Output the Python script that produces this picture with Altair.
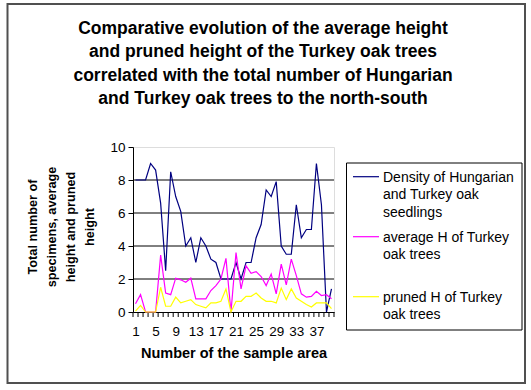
import altair as alt
import pandas as pd

# Sample areas, numbered north to south
areas = list(range(1, 41))

# Density of Hungarian and Turkey oak seedlings
density = [8, 8, 8, 9, 8.6, 6.6, 2.5, 8.5, 7, 6.1,
           4, 4.5, 3, 4.5, 4, 3.2, 3, 2, 2, 2,
           3, 2, 3, 3, 4.5, 5.3, 7.4, 7, 7.9, 4,
           3.5, 3.5, 6.5, 4.5, 5, 5, 9, 6.5, 0, 1.4]

# Average height of Turkey oak trees
avg_h = [0.5, 1.05, 0, 0, 0, 3.45, 1.15, 1.05, 2.05, 1.95,
         1.8, 2.05, 0.8, 0.8, 0.8, 1.3, 1.6, 2.0, 3.25, 0,
         3.6, 1.4, 2.8, 2.35, 2.45, 2.15, 1.6, 2.3, 1.1, 2.9,
         1.65, 3.2, 2.2, 1.1, 0.9, 0.95, 1.25, 1.0, 1.05, 0.8]

# Pruned height of Turkey oak trees
pruned_h = [0.05, 0.4, 0, 0, 0, 1.5, 0.35, 0.35, 0.9, 0.55,
            0.65, 0.75, 0.45, 0.35, 0.25, 0.55, 0.55, 0.65, 1.4, 0,
            0.65, 0.65, 0.95, 0.95, 1.15, 0.85, 0.65, 0.65, 0.55, 1.45,
            0.75, 1.4, 0.85, 0.65, 0.45, 0.3, 0.55, 0.55, 0.55, 0.2]

x_labels = [1, 5, 9, 13, 17, 21, 25, 29, 33, 37]
y_labels = [0, 2, 4, 6, 8, 10]
gridlines = [2, 4, 6, 8]

series_names = ["density", "avg", "pruned"]
series_colors = ["#000080", "#FF00FF", "#FFFF00"]
legend_labels = [
    ["Density of Hungarian", "and Turkey oak", "seedlings"],
    ["average H of Turkey", "oak trees"],
    ["pruned H of Turkey", "oak trees"],
]

title_lines = [
    "Comparative evolution of the average height",
    "and pruned height of the Turkey oak trees",
    "correlated with the total number of Hungarian",
    "and Turkey oak trees to the north-south",
]
y_title_lines = ["Total number of", "specimens, average", "height and pruned", "height"]

FONT = "Liberation Sans"

df = pd.DataFrame({
    "area": areas * 3,
    "value": density + avg_h + pruned_h,
    "series": [series_names[0]] * 40 + [series_names[1]] * 40 + [series_names[2]] * 40,
})

x_scale = alt.Scale(domain=[0.5, 40.5], nice=False, zero=False)
y_scale = alt.Scale(domain=[0, 10], nice=False)

axis_style = dict(
    labelFont=FONT, labelFontSize=13.5, labelColor="#000000",
    domainColor="#000000", domainWidth=1, tickColor="#000000", tickWidth=1,
    labelOverlap=False, grid=False,
)
x_axis = alt.Axis(
    values=x_labels, ticks=False, labelAngle=0, labelFlush=False, labelPadding=12,
    title="Number of the sample area", titlePadding=9, titleFont=FONT,
    titleFontSize=14.5, titleFontWeight="bold", titleColor="#000000",
    **axis_style,
)
y_axis = alt.Axis(values=y_labels, tickSize=5, labelPadding=3, title=None, **axis_style)

color_scale = alt.Scale(domain=series_names, range=series_colors)

base = alt.Chart(df)
lines = [
    base.transform_filter(alt.datum.series == name)
    .mark_line(strokeWidth=1.2)
    .encode(
        x=alt.X("area:Q", scale=x_scale, axis=x_axis),
        y=alt.Y("value:Q", scale=y_scale, axis=y_axis),
        color=alt.Color("series:N", scale=color_scale, legend=None),
    )
    for name in series_names
]

grid = alt.Chart(pd.DataFrame({"g": gridlines})).mark_rule(
    color="#000000", strokeWidth=1
).encode(y=alt.Y("g:Q", scale=y_scale, axis=y_axis))

# Category separators drawn as short ticks under the x axis
x_ticks = pd.DataFrame({"t": [a - 0.5 for a in areas] + [areas[-1] + 0.5]})
tick_marks = alt.Chart(x_ticks).mark_rule(color="#000000", strokeWidth=1).encode(
    x=alt.X("t:Q", scale=x_scale, axis=x_axis), y=alt.value(165), y2=alt.value(170)
)

one = pd.DataFrame({"k": [0]})

# Chart title
title = alt.Chart(one).mark_text(
    text=title_lines, align="center", baseline="middle", font=FONT,
    fontSize=17.5, fontWeight="bold", lineHeight=23.5, color="#000000",
).encode(x=alt.value(130), y=alt.value(-118.5))

# Outer chart frame
frame = alt.Chart(one).mark_rect(
    fill=None, fillOpacity=0, stroke="#505050", strokeWidth=2
).encode(x=alt.value(-125.5), x2=alt.value(392), y=alt.value(-143), y2=alt.value(236))

# Legend box, line samples and labels
legend_box = alt.Chart(one).mark_rect(
    fill="white", stroke="#000000", strokeWidth=1
).encode(x=alt.value(213.5), x2=alt.value(389), y=alt.value(16), y2=alt.value(183))

legend_rows_y = [29.7, 89.7, 149.7]
legend_parts = []
for color, labels, yy in zip(series_colors, legend_labels, legend_rows_y):
    legend_parts.append(
        alt.Chart(one).mark_rule(color=color, strokeWidth=1.2)
        .encode(x=alt.value(220), x2=alt.value(246), y=alt.value(yy))
    )
    legend_parts.append(
        alt.Chart(one).mark_text(
            text=labels, align="left", baseline="alphabetic", font=FONT,
            fontSize=14, lineHeight=17.7, color="#000000",
        ).encode(x=alt.value(250), y=alt.value(yy + 5))
    )

y_title = alt.Chart(one).mark_text(
    text=y_title_lines, angle=270, align="center", baseline="middle", font=FONT,
    fontSize=12.7, fontWeight="bold", lineHeight=19, color="#000000",
).encode(x=alt.value(-100), y=alt.value(80))

chart = alt.layer(
    frame, title, grid, tick_marks, *lines, legend_box, *legend_parts, y_title
).properties(
    width=201,
    height=165,
    padding={"left": 133, "top": 147, "right": 197, "bottom": 78},
    autosize=alt.AutoSizeParams(type="none"),
).configure_view(
    stroke="#808080", strokeWidth=1
).configure(background="white")

chart.save("out.html", embed_options={"renderer": "svg", "actions": False})
